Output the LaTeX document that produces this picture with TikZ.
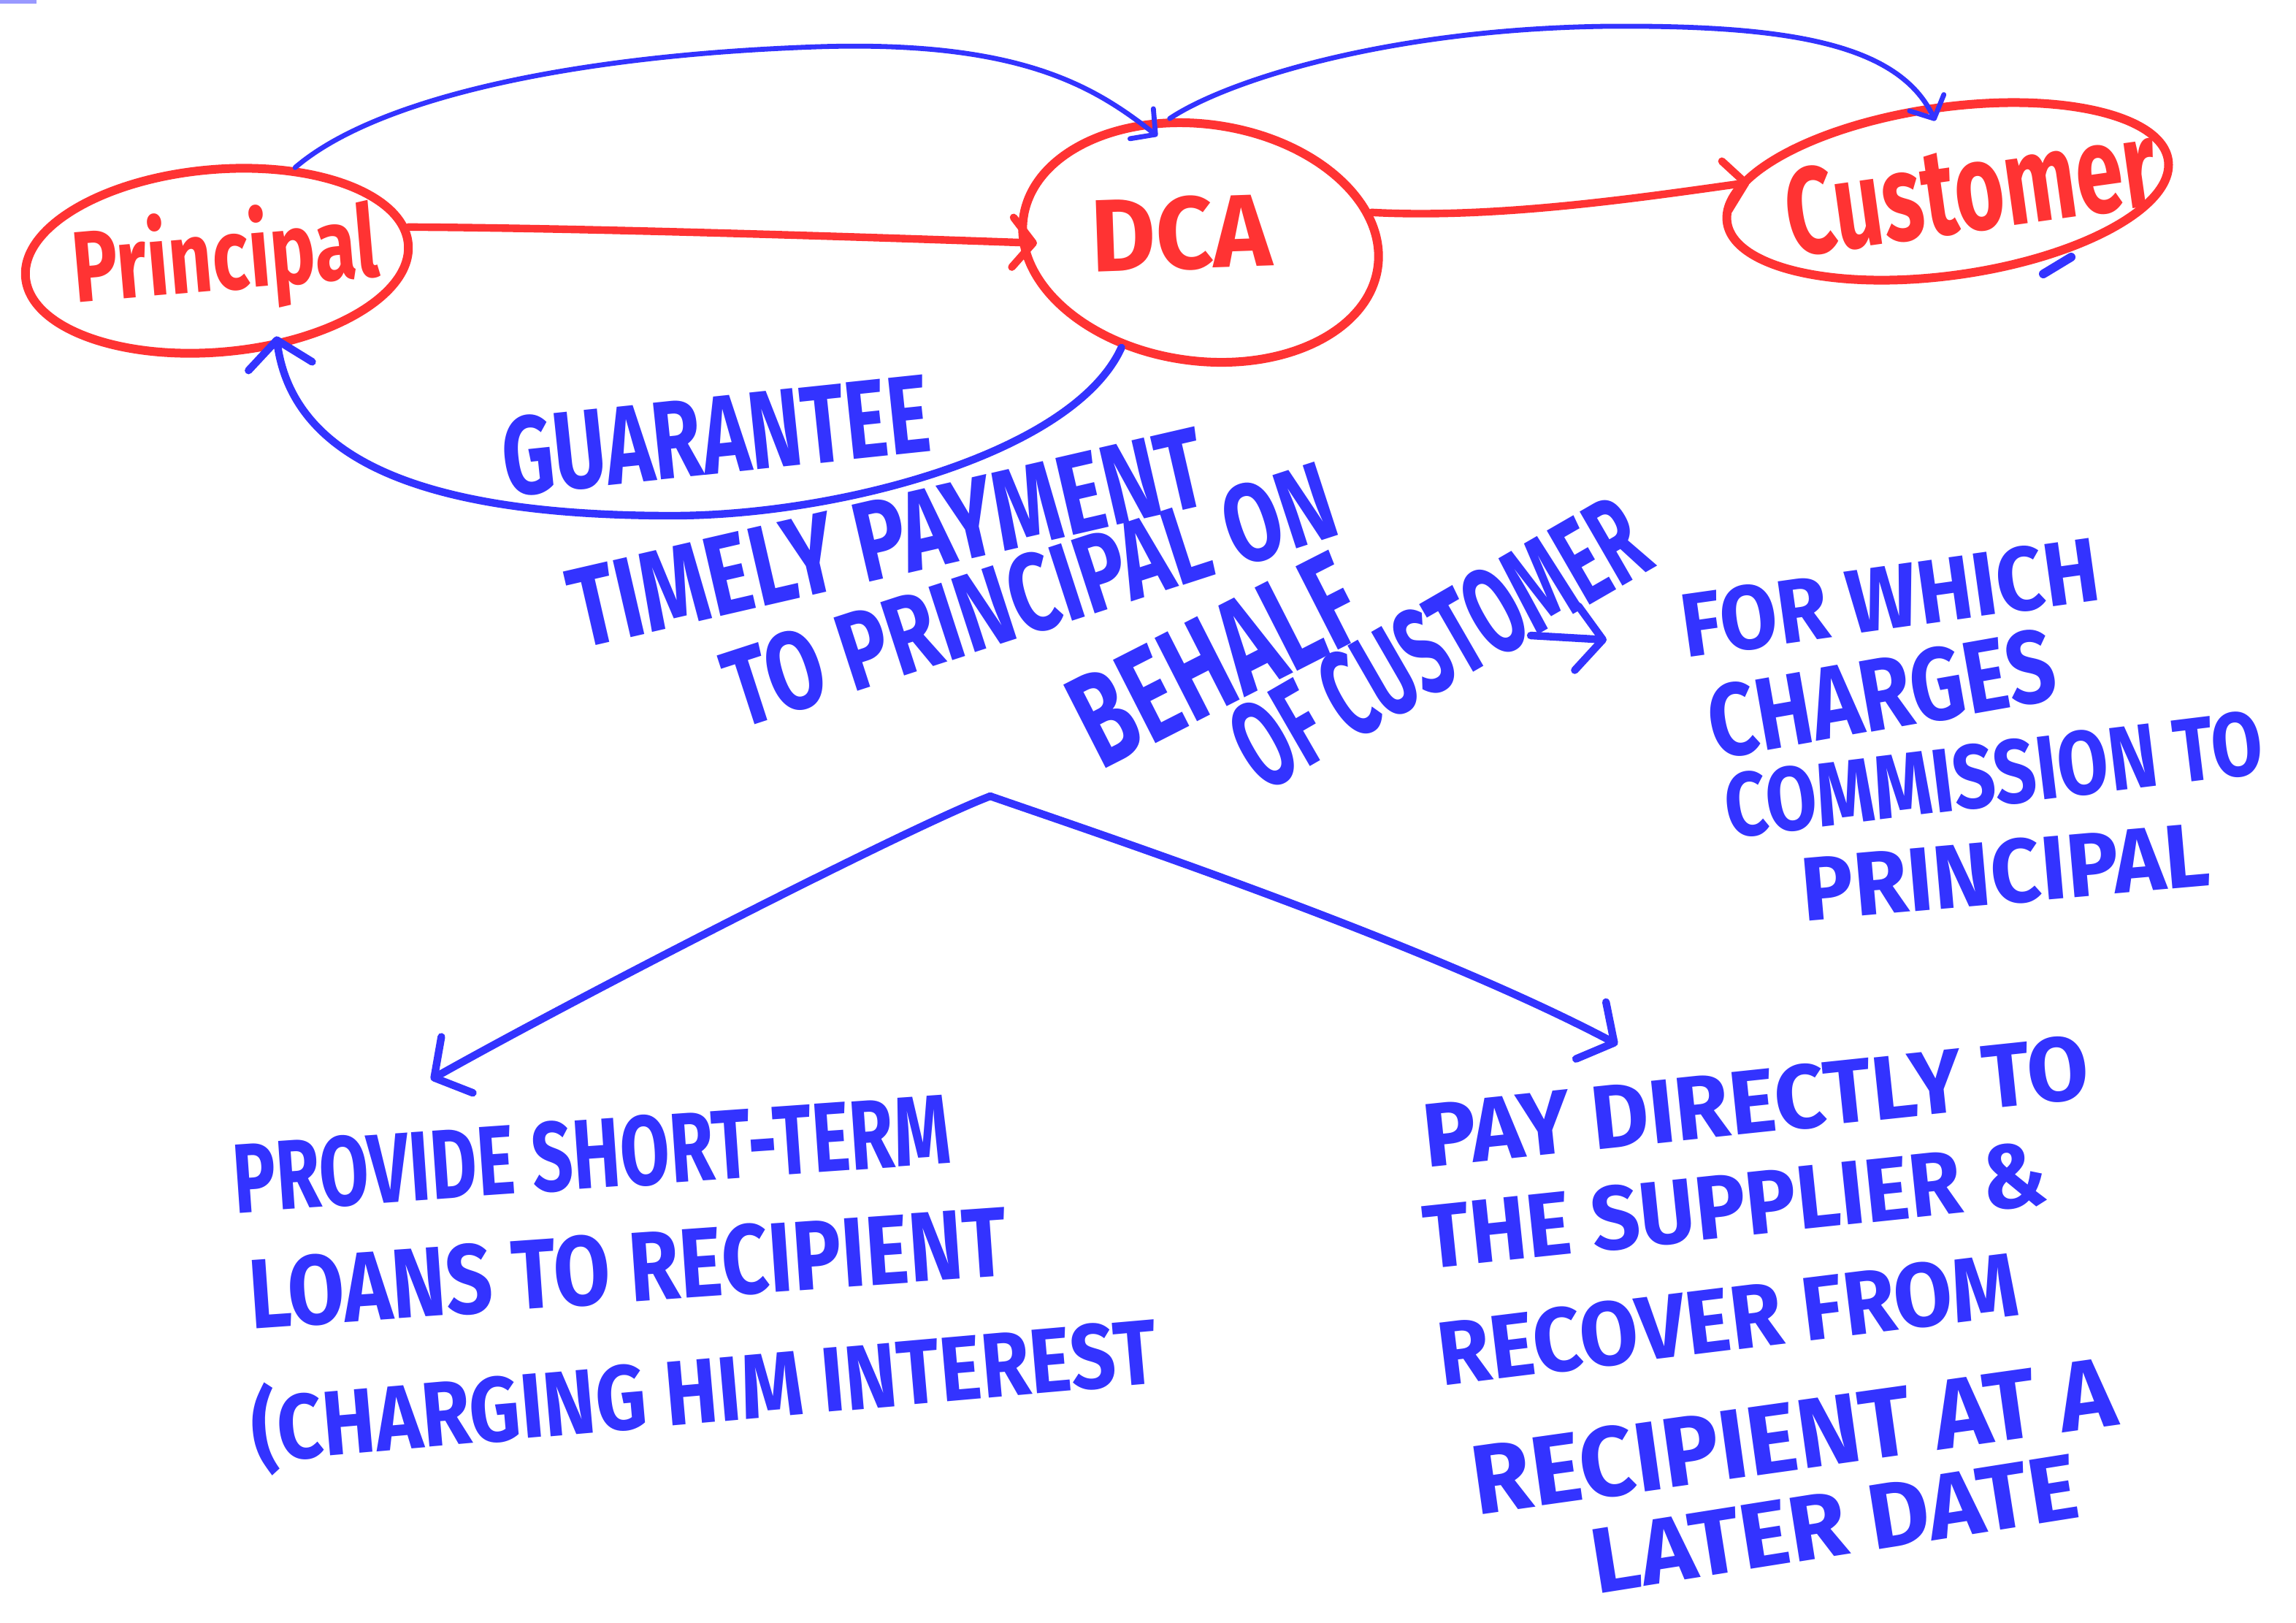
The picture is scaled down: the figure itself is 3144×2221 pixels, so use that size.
\documentclass[tikz,border=0pt]{standalone}
\usepackage{fontspec}
\setmainfont{Fira Sans}
\usetikzlibrary{arrows.meta,shapes.geometric}
\definecolor{ink}{RGB}{51,51,255}
\definecolor{marker}{RGB}{255,51,51}
% stretch a piece of text to a given width and height
\newcommand{\hw}[3]{\resizebox{#1}{#2}{#3}}

\begin{document}
\begin{tikzpicture}[x=0.25pt,y=-0.25pt,
  place/.style={ellipse, draw=marker, line width=3pt, inner sep=0pt, text=marker, font=\bfseries},
  flow/.style={draw=marker, line width=2.6pt, line cap=round,
    -{Straight Barb[length=7pt,width=17pt,round]}},
  thinlink/.style={draw=ink, line width=1.7pt, line cap=round,
    -{Straight Barb[length=6pt,width=13pt,round]}},
  thicklink/.style={draw=ink, line width=2.6pt, line cap=round,
    -{Straight Barb[length=9pt,width=22pt,round]}},
  lbl/.style={text=ink, inner sep=0pt, font=\bfseries},
]
\fill[white] (0,0) rectangle (3144,2221);
\useasboundingbox (0,0) rectangle (3144,2221);

% the three parties
\node[place, minimum width=131.5pt, minimum height=62.5pt, rotate=5] (P) at (297,357)
  {\makebox[0pt]{\raisebox{-3pt}{\hw{105pt}{28pt}{Principal}}\hspace{-6pt}}};
\node[place, minimum width=122.5pt, minimum height=81pt, rotate=-8] (DCA) at (1644,332)
  {\makebox[0pt]{\raisebox{5pt}{\rotatebox{10}{\hw{62pt}{25pt}{DCA}}}\hspace{14pt}}};
\node[place, minimum width=152.5pt, minimum height=57.5pt, rotate=8] (C) at (2667,262)
  {\makebox[0pt]{\hw{128pt}{30pt}{Customer}\hspace{-16pt}}};

% red flow between the parties
\draw[flow, shorten >=-6pt] (P.5) .. controls (800,312) and (1200,325) .. (DCA.188);
\draw[flow, shorten >=-4pt] (DCA.18) .. controls (2050,300) and (2250,270) .. (C.170);

% blue links above and below
\draw[thinlink, shorten >=-8pt] (P.45) .. controls (520,130) and (800,75) .. (1120,64)
  .. controls (1400,55) and (1500,120) .. (DCA.125);
\draw[thinlink, shorten >=-6pt] (DCA.112) .. controls (1680,110) and (1900,40) .. (2200,36)
  .. controls (2450,34) and (2600,60) .. (C.95);
\draw[thicklink, shorten >=-4pt] (DCA.241) .. controls (1470,620) and (1150,706) .. (920,706)
  .. controls (560,706) and (400,620) .. (P.300);

% small strokes
\draw[ink, line width=3pt, line cap=round] (2798,375) -- (2836,352);
\draw[ink!50, line width=2pt] (0,1) -- (50,1);

% labels of the guarantee
\node[lbl, rotate=6] (g) at (980,596) {\hw{147pt}{27pt}{GUARANTEE}};
\node[lbl, rotate=13] (t1) at (1215,736) {\hw{222pt}{27pt}{TIMELY PAYMENT}};
\node[lbl, rotate=18] (t2) at (1410,814) {\hw{217pt}{27pt}{TO PRINCIPAL ON}};
\node[lbl, rotate=27] (t3) at (1664,904) {\hw{104pt}{32pt}{BEHALF}};
\node[lbl, rotate=30] (t4) at (1970,880) {\hw{156pt}{30pt}{OF CUSTOMER}};

\coordinate (h1) at (2096,870);
\coordinate (h2) at (2200,876);
\draw[thicklink] (h1) -- (h2);

\node[lbl, rotate=8] (c1) at (2588,818) {\hw{144pt}{22pt}{FOR WHICH}};
\node[lbl, rotate=10] (c2) at (2576,950) {\hw{120pt}{25pt}{CHARGES}};
\node[lbl, rotate=7] (c3) at (2730,1060) {\hw{185pt}{22pt}{COMMISSION TO}};
\node[lbl, rotate=5] (c4) at (2746,1194) {\hw{140pt}{22pt}{PRINCIPAL}};

% the two options
\coordinate (split) at (1356,1090);
\coordinate (lend) at (590,1478);
\coordinate (rend) at (2215,1430);
\draw[thicklink] (split) .. controls (1250,1130) and (800,1360) .. (lend);
\draw[thicklink] (split) .. controls (1500,1140) and (1950,1290) .. (rend);

\node[lbl, rotate=4] (l1) at (810,1580) {\hw{246pt}{24pt}{PROVIDE SHORT-TERM}};
\node[lbl, rotate=4] (l2) at (860,1736) {\hw{260pt}{24pt}{LOANS TO RECIPIENT}};
\node[lbl, rotate=5] (l3) at (964,1904) {\hw{311pt}{27pt}{(CHARGING HIM INTEREST}};

\node[lbl, rotate=6] (r1) at (2404,1508) {\hw{229pt}{22pt}{PAY DIRECTLY TO}};
\node[lbl, rotate=6] (r2) at (2376,1650) {\hw{214pt}{22pt}{THE SUPPLIER \&}};
\node[lbl, rotate=7] (r3) at (2366,1806) {\hw{200pt}{22pt}{RECOVER FROM}};
\node[lbl, rotate=8] (r4) at (2456,1966) {\hw{222pt}{24pt}{RECIPIENT AT A}};
\node[lbl, rotate=9] (r5) at (2512,2086) {\hw{168pt}{22pt}{LATER DATE}};
\end{tikzpicture}
\end{document}
